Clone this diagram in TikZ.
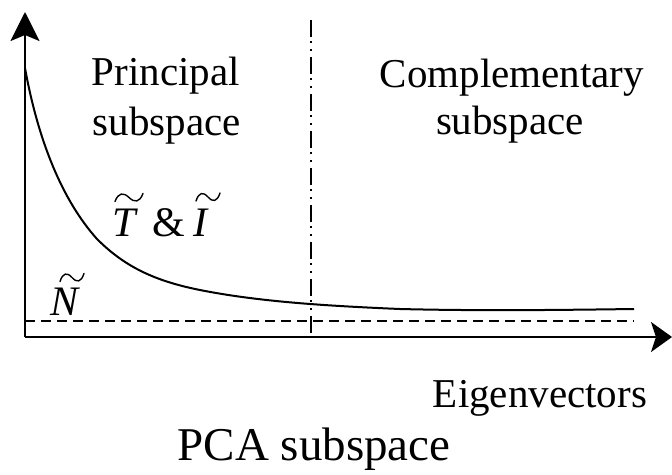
\documentclass[tikz,border=0pt]{standalone}
\usepackage{fontspec}
\setmainfont{Liberation Serif}
\usetikzlibrary{arrows.meta}
\tikzset{
  axis/.style={line width=2.2pt},
  lbl/.style={inner sep=0pt, anchor=base, font=\fontsize{41}{50}\selectfont},
  mlbl/.style={inner sep=0pt, anchor=base west, font=\fontsize{42}{50}\selectfont},
  curveline/.style={line width=2pt},
  dashline/.style={line width=2pt, dash pattern=on 10pt off 6pt},
  dashdotline/.style={line width=2pt, dash pattern=on 17pt off 4pt on 2pt off 6pt on 2pt off 6pt},
  tildemark/.pic={\draw[line width=1.4pt, line cap=round] (0,0.45) .. controls (0.12,-0.55) and (0.3,-0.6) .. (0.5,0) .. controls (0.7,0.6) and (0.88,0.55) .. (1,-0.45);}
}
\begin{document}
\begin{tikzpicture}[x=1pt, y=-1pt]
\useasboundingbox (0,0) rectangle (672,474);
% axes
\coordinate (O) at (25,337);
\coordinate (ytip) at (25,12);
\coordinate (xtip) at (672,337);
\draw[axis, -{Stealth[length=29pt, width=29pt, inset=6pt]}] (O) -- (ytip);
\draw[axis, -{Stealth[length=21pt, width=30pt, inset=5pt]}] (O) -- (xtip);
% separator
\coordinate (septop) at (311,20);
\coordinate (sepbot) at (311,337);
\draw[dashdotline] (septop) -- (sepbot);
% noise level
\coordinate (nl) at (25,321);
\coordinate (nr) at (634,321);
\draw[dashline] (nl) -- (nr);
% eigenvalue curve
\coordinate (c0) at (25,68);
\coordinate (c1) at (97,239);
\coordinate (c2) at (200,290);
\coordinate (c3) at (400,309);
\coordinate (c4) at (634,309);
\draw[curveline] (c0) .. controls (38,140) and (62,200) .. (c1)
  .. controls (125,267) and (155,281) .. (c2)
  .. controls (260,302) and (330,306) .. (c3)
  .. controls (480,311) and (560,310) .. (c4);
% labels
\node[lbl] (p1) at (166,85) {Principal};
\node[lbl] (p2) at (167,135) {subspace};
\node[lbl] (cc1) at (512,87) {Complementary};
\node[lbl] (cc2) at (510,134) {subspace};
\node[lbl] (ev) at (540,407) {Eigenvectors};
\node[inner sep=0pt, anchor=base, font=\fontsize{47}{56}\selectfont] (pca) at (314,460) {PCA subspace};
\node[mlbl] (T) at (112,236) {\itshape T};
\node[mlbl] (amp) at (152,236) {\&};
\node[mlbl] (I) at (193,236) {\itshape I};
\node[mlbl] (N) at (50,315) {\itshape N};
% tildes
\pic[xscale=28, yscale=9] at (115,197.5) {tildemark};
\pic[xscale=24, yscale=9] at (196,197) {tildemark};
\pic[xscale=24, yscale=9] at (60,277.5) {tildemark};
\end{tikzpicture}
\end{document}
